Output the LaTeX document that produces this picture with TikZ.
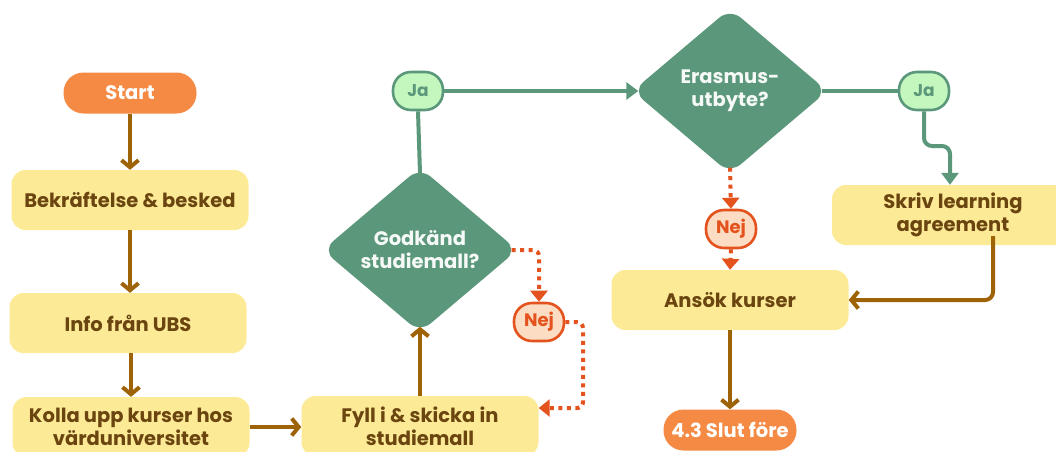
\documentclass[tikz,border=0pt]{standalone}
\usepackage{fontspec}
\setmainfont{Poppins}
\usetikzlibrary{shapes.geometric,arrows.meta,calc}
\definecolor{brownline}{HTML}{9E6207}
\definecolor{browntext}{HTML}{6A4510}
\definecolor{sage}{HTML}{5B977A}
\definecolor{mint}{HTML}{C4F7BE}
\definecolor{pumpkin}{HTML}{F58A45}
\definecolor{butter}{HTML}{FDEA96}
\definecolor{rust}{HTML}{E4521D}
\definecolor{peach}{HTML}{FCDCC2}
\tikzset{
  txt/.style={font=\fontsize{19.5}{23}\selectfont\bfseries, align=center},
  stepbox/.style={txt, rectangle, rounded corners=14pt, fill=butter, text=browntext,
    minimum width=237pt, minimum height=60pt, inner sep=0pt},
  endpill/.style={txt, rectangle, rounded corners=20pt, fill=pumpkin, text=white,
    minimum width=133pt, minimum height=41pt, inner sep=0pt},
  decide/.style={txt, diamond, rounded corners=14pt, fill=sage, text=white!94!sage,
    minimum width=195pt, minimum height=165pt, inner sep=0pt, aspect=1.19},
  yespill/.style={txt, font=\fontsize{17}{20}\selectfont\bfseries, rectangle,
    rounded corners=18pt, draw=sage, line width=2.6pt,
    fill=mint, text=sage, minimum width=50pt, minimum height=38pt, inner sep=0pt},
  nopill/.style={txt, font=\fontsize{18}{20}\selectfont\bfseries, rectangle,
    rounded corners=18pt, draw=rust, line width=2.6pt,
    fill=peach, text=rust, minimum width=50pt, minimum height=38pt, inner sep=0pt},
  flow/.style={draw=brownline, line width=4pt,
    -{Straight Barb[length=7pt,width=17pt,line width=4pt]}},
  yesline/.style={draw=sage, line width=4pt},
  yesarrow/.style={yesline, -{Triangle[length=12pt,width=17pt]}},
  noarrow/.style={draw=rust, line width=4pt, dash pattern=on 4pt off 4.5pt,
    -{Triangle[length=11pt,width=17pt]}},
}
\begin{document}
\begin{tikzpicture}[x=1pt,y=-1pt]
\useasboundingbox (0,0) rectangle (1056,451);

% left column
\node[endpill] (start) at (130,93) {Start};
\node[stepbox] (bek) at (130,200) {Bekräftelse \& besked};
\node[stepbox] (info) at (128,323) {Info från UBS};
\node[stepbox] (kolla) at (131,427) {Kolla upp kurser hos\\värduniversitet};
\node[stepbox] (fyll) at (420,426) {Fyll i \& skicka in\\studiemall};

% first decision
\node[decide] (god) at (420,250) {Godkänd\\studiemall?};
\node[yespill] (ja1) at (418,91) {Ja};
\node[nopill] (nej1) at (539,322) {Nej};

% second decision
\node[decide] (eras) at (730,91) {Erasmus-\\utbyte?};
\node[yespill] (ja2) at (924,91) {Ja};
\node[nopill] (nej2) at (731,229) {Nej};
\node[stepbox, minimum width=242pt] (skriv) at (953,215) {Skriv learning\\agreement};
\node[stepbox] (ansok) at (730,300) {Ansök kurser};
\node[endpill] (slut) at (730,430) {4.3 Slut före};

% brown flow
\draw[flow] (start.south -| bek.north) -- (bek.north);
\draw[flow] (bek.south) -- (bek.south |- info.north);
\draw[flow] (info.south -| kolla.north) -- (kolla.north);
\draw[flow] (kolla.east) -- (fyll.west |- kolla.east);
\draw[flow] (fyll.north -| god.south) -- ($(god.south)+(0,-6)$);
\draw[flow] (ansok.south) -- (slut.north);
\coordinate (skout) at (993,236);
\draw[flow, rounded corners=8pt] (skout) |- (ansok.east);

% green yes paths
\draw[yesline] ($(god.north)+(0,6)$) -- (ja1.south);
\draw[yesarrow] (ja1.east) -- ($(eras.west)+(6,0)$);
\draw[yesline] ($(eras.east)+(-6,0)$) -- (ja2.west);
\coordinate (jbend) at (924,146);
\draw[yesarrow, rounded corners=8pt] (ja2.south) -- (jbend) -| (skriv.north -| 950,0);

% red dotted no paths
\draw[noarrow, rounded corners=6pt] ($(god.east)+(-6,0)$) -| (nej1.north);
\coordinate (nbend) at (583,408);
\draw[noarrow, rounded corners=6pt] (nej1.east) -| (nbend) -- (nbend -| fyll.east);
\draw[noarrow] ($(eras.south)+(0,-6)$) -- (nej2.north);
\draw[noarrow] (nej2.south) -- (ansok.north);
\end{tikzpicture}
\end{document}
